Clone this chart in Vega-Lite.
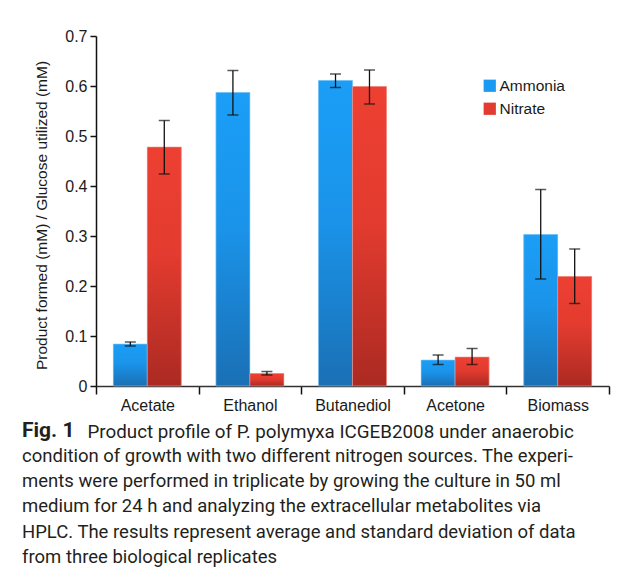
{
  "$schema": "https://vega.github.io/schema/vega-lite/v6.json",
  "width": 513,
  "height": 350,
  "autosize": {"type": "none"},
  "padding": {"left": 96, "top": 36, "right": 11, "bottom": 195},
  "background": "white",
  "config": {
    "view": {"stroke": null},
    "font": "Liberation Sans"
  },
  "title": {
    "text": "Fig. 1",
    "subtitle": [
      "condition of growth with two different nitrogen sources. The experi-",
      "ments were performed in triplicate by growing the culture in 50 ml",
      "medium for 24 h and analyzing the extracellular metabolites via",
      "HPLC. The results represent average and standard deviation of data",
      "from three biological replicates"
    ],
    "orient": "bottom",
    "anchor": "start",
    "frame": "group",
    "dx": -74,
    "offset": -21,
    "font": "Roboto",
    "fontSize": 21,
    "fontWeight": "bold",
    "color": "#231f20",
    "subtitleFont": "Roboto",
    "subtitleFontSize": 18.5,
    "subtitleFontWeight": "normal",
    "subtitleColor": "#231f20",
    "subtitleLineHeight": 25.3,
    "subtitlePadding": 6
  },
  "data": {
    "values": [
      {"product": "Acetate", "source": "Ammonia", "mean": 0.084, "lo": 0.080, "hi": 0.088},
      {"product": "Acetate", "source": "Nitrate", "mean": 0.478, "lo": 0.424, "hi": 0.531},
      {"product": "Ethanol", "source": "Ammonia", "mean": 0.587, "lo": 0.542, "hi": 0.631},
      {"product": "Ethanol", "source": "Nitrate", "mean": 0.025, "lo": 0.022, "hi": 0.029},
      {"product": "Butanediol", "source": "Ammonia", "mean": 0.611, "lo": 0.597, "hi": 0.624},
      {"product": "Butanediol", "source": "Nitrate", "mean": 0.599, "lo": 0.564, "hi": 0.632},
      {"product": "Acetone", "source": "Ammonia", "mean": 0.052, "lo": 0.043, "hi": 0.062},
      {"product": "Acetone", "source": "Nitrate", "mean": 0.058, "lo": 0.043, "hi": 0.075},
      {"product": "Biomass", "source": "Ammonia", "mean": 0.303, "lo": 0.214, "hi": 0.393},
      {"product": "Biomass", "source": "Nitrate", "mean": 0.219, "lo": 0.165, "hi": 0.274}
    ]
  },
  "encoding": {
    "x": {
      "field": "product",
      "type": "nominal",
      "sort": ["Acetate", "Ethanol", "Butanediol", "Acetone", "Biomass"],
      "scale": {"paddingInner": 0, "paddingOuter": 0},
      "axis": {
        "title": "Product profile of P. polymyxa ICGEB2008 under anaerobic",
        "titleFont": "Roboto",
        "titleFontSize": 18.8,
        "titleFontWeight": "normal",
        "titleColor": "#231f20",
        "titleAlign": "left",
        "titleAnchor": "start",
        "titleBaseline": "alphabetic",
        "titleX": -9,
        "titleY": 51,
        "labelAngle": 0,
        "tickBand": "extent",
        "tickSize": 8,
        "tickWidth": 1.5,
        "tickColor": "#111",
        "domainColor": "#333",
        "domainWidth": 1.5,
        "labelFontSize": 16,
        "labelColor": "#1a1a1a",
        "labelPadding": 3
      }
    },
    "xOffset": {
      "field": "source",
      "type": "nominal",
      "scale": {"paddingInner": 0, "paddingOuter": 0.51}
    }
  },
  "layer": [
    {
      "mark": {"type": "bar"},
      "encoding": {
        "y": {
          "field": "mean",
          "type": "quantitative",
          "scale": {"domain": [0, 0.7], "nice": false},
          "axis": {
            "values": [0, 0.1, 0.2, 0.3, 0.4, 0.5, 0.6, 0.7],
            "format": "~g",
            "grid": false,
            "title": "Product formed (mM) / Glucose utilized (mM)",
            "titleFontSize": 15.5,
            "titleFontWeight": "normal",
            "titleColor": "#1a1a1a",
            "titleY": 179,
            "titlePadding": 15,
            "labelFontSize": 16,
            "labelColor": "#1a1a1a",
            "tickSize": 6,
            "tickColor": "#111",
            "tickWidth": 1.5,
            "domainColor": "#111",
            "domainWidth": 1.5,
            "labelPadding": 3
          }
        },
        "color": {
          "field": "source",
          "type": "nominal",
          "scale": {"domain": ["Ammonia", "Nitrate"], "range": ["#1b9af2", "#e23b2f"]},
          "legend": {
            "title": null,
            "orient": "none",
            "legendX": 386,
            "legendY": 42,
            "symbolType": "square",
            "symbolSize": 150,
            "symbolStrokeWidth": 0,
            "labelFontSize": 15.5,
            "labelColor": "#1a1a1a",
            "labelOffset": 2,
            "rowPadding": 6
          }
        }
      }
    },
    {
      "mark": {"type": "bar", "strokeWidth": 1},
      "encoding": {
        "y": {"field": "mean", "type": "quantitative"},
        "fill": {
          "condition": {
            "test": "datum.source === 'Ammonia'",
            "value": {
              "gradient": "linear", "x1": 0, "y1": 0, "x2": 0, "y2": 1,
              "stops": [
                {"offset": 0, "color": "#1b9ef7"},
                {"offset": 0.45, "color": "#1a94ea"},
                {"offset": 1, "color": "#1a70b5"}
              ]
            }
          },
          "value": {
            "gradient": "linear", "x1": 0, "y1": 0, "x2": 0, "y2": 1,
            "stops": [
              {"offset": 0, "color": "#ed4033"},
              {"offset": 0.45, "color": "#e33b2f"},
              {"offset": 1, "color": "#ab2a22"}
            ]
          }
        },
        "stroke": {
          "condition": {"test": "datum.source === 'Ammonia'", "value": "#8ccdf6"},
          "value": "#f09c95"
        },
        "strokeOpacity": {"value": 0.6}
      }
    },
    {
      "mark": {"type": "rule", "color": "#111", "strokeWidth": 1.3},
      "encoding": {
        "y": {"field": "lo", "type": "quantitative"},
        "y2": {"field": "hi"}
      }
    },
    {
      "mark": {"type": "tick", "color": "#111", "thickness": 1.5, "size": 11},
      "encoding": {
        "y": {"field": "lo", "type": "quantitative"}
      }
    },
    {
      "mark": {"type": "tick", "color": "#111", "thickness": 1.5, "size": 11},
      "encoding": {
        "y": {"field": "hi", "type": "quantitative"}
      }
    }
  ]
}
